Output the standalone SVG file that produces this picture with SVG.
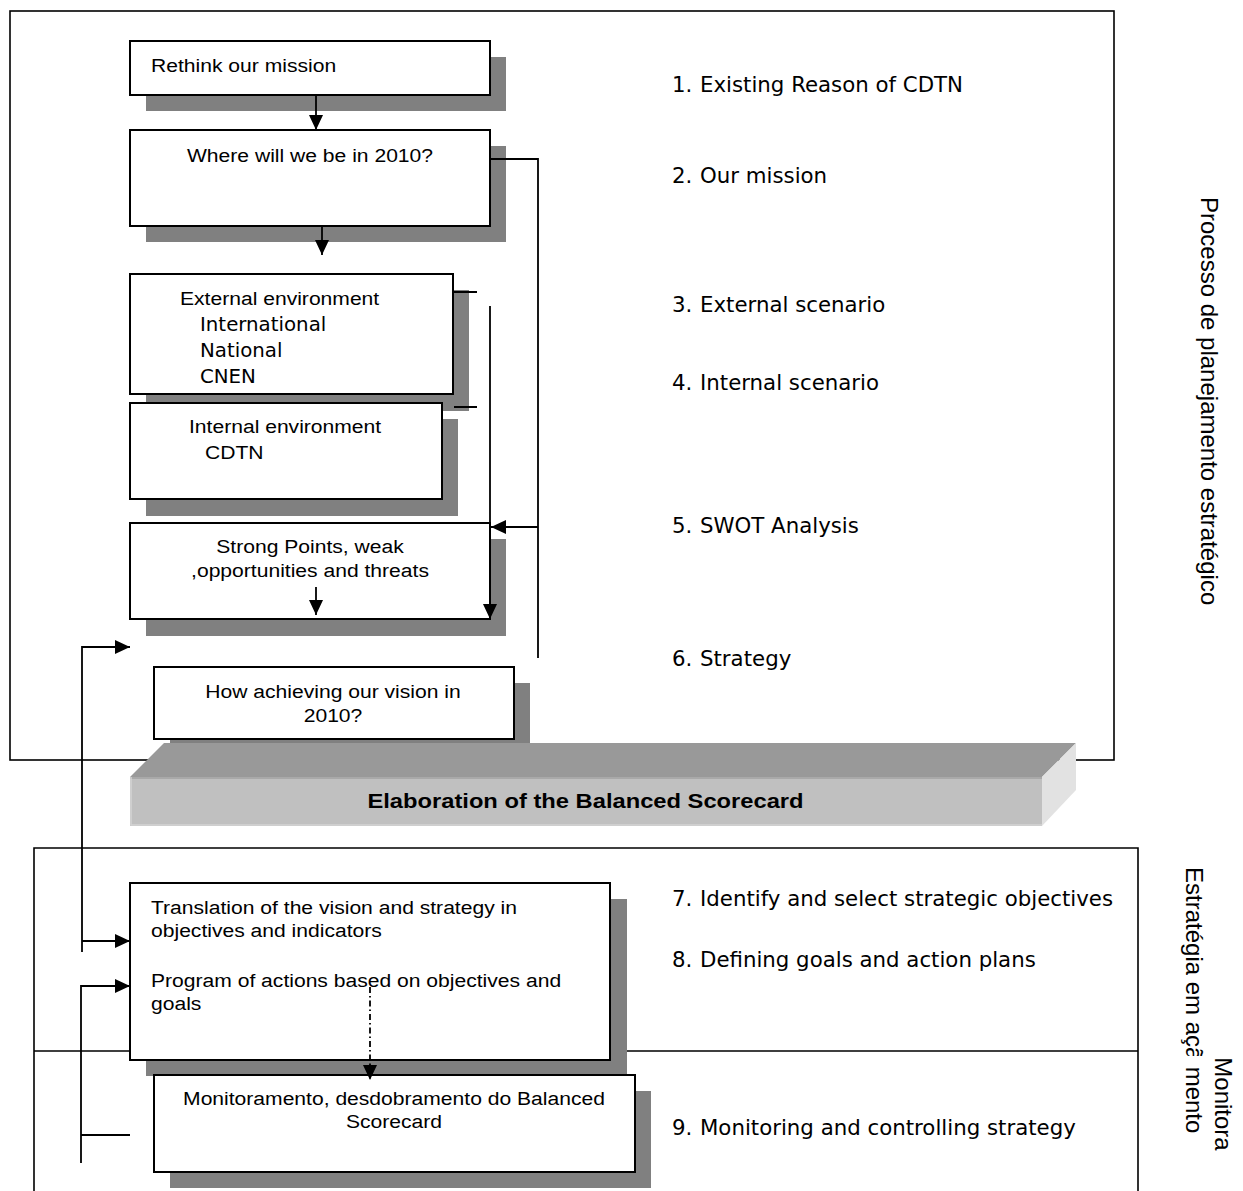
<svg xmlns="http://www.w3.org/2000/svg" width="1243" height="1191" viewBox="0 0 1243 1191">
<style>
.box{fill:#fff;stroke:#000;stroke-width:2}
.sh{fill:#808080}
.fr{fill:none;stroke:#000;stroke-width:1.6}
.c{fill:none;stroke:#000;stroke-width:1.8}
.t{font-family:"Liberation Sans",Arial,sans-serif;font-size:19px;fill:#000}
.lab{font-family:"DejaVu Sans",Verdana,sans-serif;font-size:21.3px;fill:#000}
.lab2{font-family:"DejaVu Sans",Verdana,sans-serif;font-size:19.8px;fill:#000}
.v{font-family:"Liberation Sans",Arial,sans-serif;font-size:24px;fill:#000}
.b{font-family:"Liberation Sans",Arial,sans-serif;font-size:21px;font-weight:bold;fill:#000}
</style>
<defs>
<marker id="ah" viewBox="0 0 15 14" refX="15" refY="7" markerWidth="15" markerHeight="14" orient="auto" markerUnits="userSpaceOnUse"><path d="M0,0 L15,7 L0,14 z" fill="#000"/></marker>
<clipPath id="clipE"><rect x="1150" y="850" width="80" height="206"/></clipPath>
</defs>
<rect width="1243" height="1191" fill="#fff"/>

<g id="frames">
<rect class="fr" x="10" y="11" width="1104" height="749"/>
<path class="fr" d="M34,1191 V848 H1138 V1191 M34,1051 H1138"/>
</g>

<g id="n1"><rect class="sh" x="146" y="57" width="360" height="54"/><rect class="box" x="130" y="41" width="360" height="54"/>
<text class="t" transform="translate(151,72) scale(1.11,1)">Rethink our mission</text></g>

<g id="n2"><rect class="sh" x="146" y="146" width="360" height="96"/><rect class="box" x="130" y="130" width="360" height="96"/>
<text class="t" text-anchor="middle" transform="translate(310,162) scale(1.11,1)">Where will we be in 2010?</text></g>

<g id="n3"><rect class="sh" x="146" y="290" width="323" height="121"/><rect class="box" x="130" y="274" width="323" height="120"/>
<text class="t" transform="translate(180,305) scale(1.11,1)">External environment</text>
<text class="lab2" x="200" y="331">International</text>
<text class="lab2" x="200" y="357">National</text>
<text class="lab2" x="200" y="383">CNEN</text></g>

<g id="n4"><rect class="sh" x="146" y="419" width="312" height="97"/><rect class="box" x="130" y="403" width="312" height="96"/>
<text class="t" transform="translate(189,433) scale(1.11,1)">Internal environment</text>
<text class="t" transform="translate(205,459) scale(1.11,1)">CDTN</text></g>

<g id="n5"><rect class="sh" x="146" y="539" width="360" height="97"/><rect class="box" x="130" y="523" width="360" height="96"/>
<text class="t" text-anchor="middle" transform="translate(310,553) scale(1.11,1)">Strong Points, weak</text>
<text class="t" text-anchor="middle" transform="translate(310,577) scale(1.11,1)">,opportunities and threats</text></g>

<g id="n6"><rect class="sh" x="170" y="683" width="360" height="72"/><rect class="box" x="154" y="667" width="360" height="72"/>
<text class="t" text-anchor="middle" transform="translate(333,698) scale(1.11,1)">How achieving our vision in</text>
<text class="t" text-anchor="middle" transform="translate(333,722) scale(1.11,1)">2010?</text></g>

<g id="bar">
<polygon points="130,777 164,743 1076,743 1042,777" fill="#999999"/>
<polygon points="1042,777 1076,743 1076,790 1042,826" fill="#e2e2e2"/>
<rect x="130" y="777" width="912" height="49" fill="#c0c0c0"/>
<path d="M130,778 H1042" stroke="#a9a9a9" stroke-width="2" fill="none"/>
<path d="M131,777 V825 H1042" stroke="#d4d4d4" stroke-width="1.5" fill="none"/>
<text class="b" text-anchor="middle" transform="translate(585.5,808) scale(1.13,1)">Elaboration of the Balanced Scorecard</text>
</g>

<g id="n7"><rect class="sh" x="146" y="899" width="481" height="177"/><rect class="box" x="130" y="883" width="480" height="177"/>
<text class="t" transform="translate(151,914) scale(1.11,1)">Translation of the vision and strategy in</text>
<text class="t" transform="translate(151,937) scale(1.11,1)">objectives and indicators</text>
<text class="t" transform="translate(151,987) scale(1.11,1)">Program of actions based on objectives and</text>
<text class="t" transform="translate(151,1010) scale(1.11,1)">goals</text></g>

<g id="n8"><rect class="sh" x="170" y="1091" width="481" height="97"/><rect class="box" x="154" y="1075" width="481" height="97"/>
<text class="t" text-anchor="middle" transform="translate(394,1105) scale(1.11,1)">Monitoramento, desdobramento do Balanced</text>
<text class="t" text-anchor="middle" transform="translate(394,1128) scale(1.11,1)">Scorecard</text></g>

<g id="connectors">
<path class="c" d="M316,96 V130" marker-end="url(#ah)"/>
<path class="c" d="M322,226 V255" marker-end="url(#ah)"/>
<path class="c" d="M490,159 H538 V658"/>
<path class="c" d="M538,527 H491" marker-end="url(#ah)"/>
<path class="c" d="M454,292 H477 M454,407 H477"/>
<path class="c" d="M490,306 V619" marker-end="url(#ah)"/>
<path class="c" d="M316,587 V615" marker-end="url(#ah)"/>
<path class="c" d="M82,952 V647 H130" marker-end="url(#ah)"/>
<path class="c" d="M82,941 H130" marker-end="url(#ah)"/>
<path class="c" d="M81,1163 V986 H130" marker-end="url(#ah)"/>
<path class="c" d="M81,1135 H130"/>
<path class="c" d="M370,987 V1080" stroke-width="1.3" stroke-dasharray="6 3 1.5 3" marker-end="url(#ah)"/>
</g>

<g id="labels">
<text class="lab" y="92"><tspan x="672">1.</tspan><tspan x="700">Existing Reason of CDTN</tspan></text>
<text class="lab" y="183"><tspan x="672">2.</tspan><tspan x="700">Our mission</tspan></text>
<text class="lab" y="312"><tspan x="672">3.</tspan><tspan x="700">External scenario</tspan></text>
<text class="lab" y="390"><tspan x="672">4.</tspan><tspan x="700">Internal scenario</tspan></text>
<text class="lab" y="533"><tspan x="672">5.</tspan><tspan x="700">SWOT Analysis</tspan></text>
<text class="lab" y="666"><tspan x="672">6.</tspan><tspan x="700">Strategy</tspan></text>
<text class="lab" y="906"><tspan x="672">7.</tspan><tspan x="700">Identify and select strategic objectives</tspan></text>
<text class="lab" y="967"><tspan x="672">8.</tspan><tspan x="700">Defining goals and action plans</tspan></text>
<text class="lab" y="1135"><tspan x="672">9.</tspan><tspan x="700">Monitoring and controlling strategy</tspan></text>
</g>

<g id="side-labels">
<text class="v" transform="translate(1201,197) rotate(90)">Processo de planejamento estratégico</text>
<g clip-path="url(#clipE)"><text class="v" transform="translate(1186,867) rotate(90)">Estratégia em ação</text></g>
<text class="v" text-anchor="middle" transform="translate(1215,1104) rotate(90)">Monitora</text>
<text class="v" text-anchor="middle" transform="translate(1186,1100) rotate(90)">mento</text>
</g>
</svg>
